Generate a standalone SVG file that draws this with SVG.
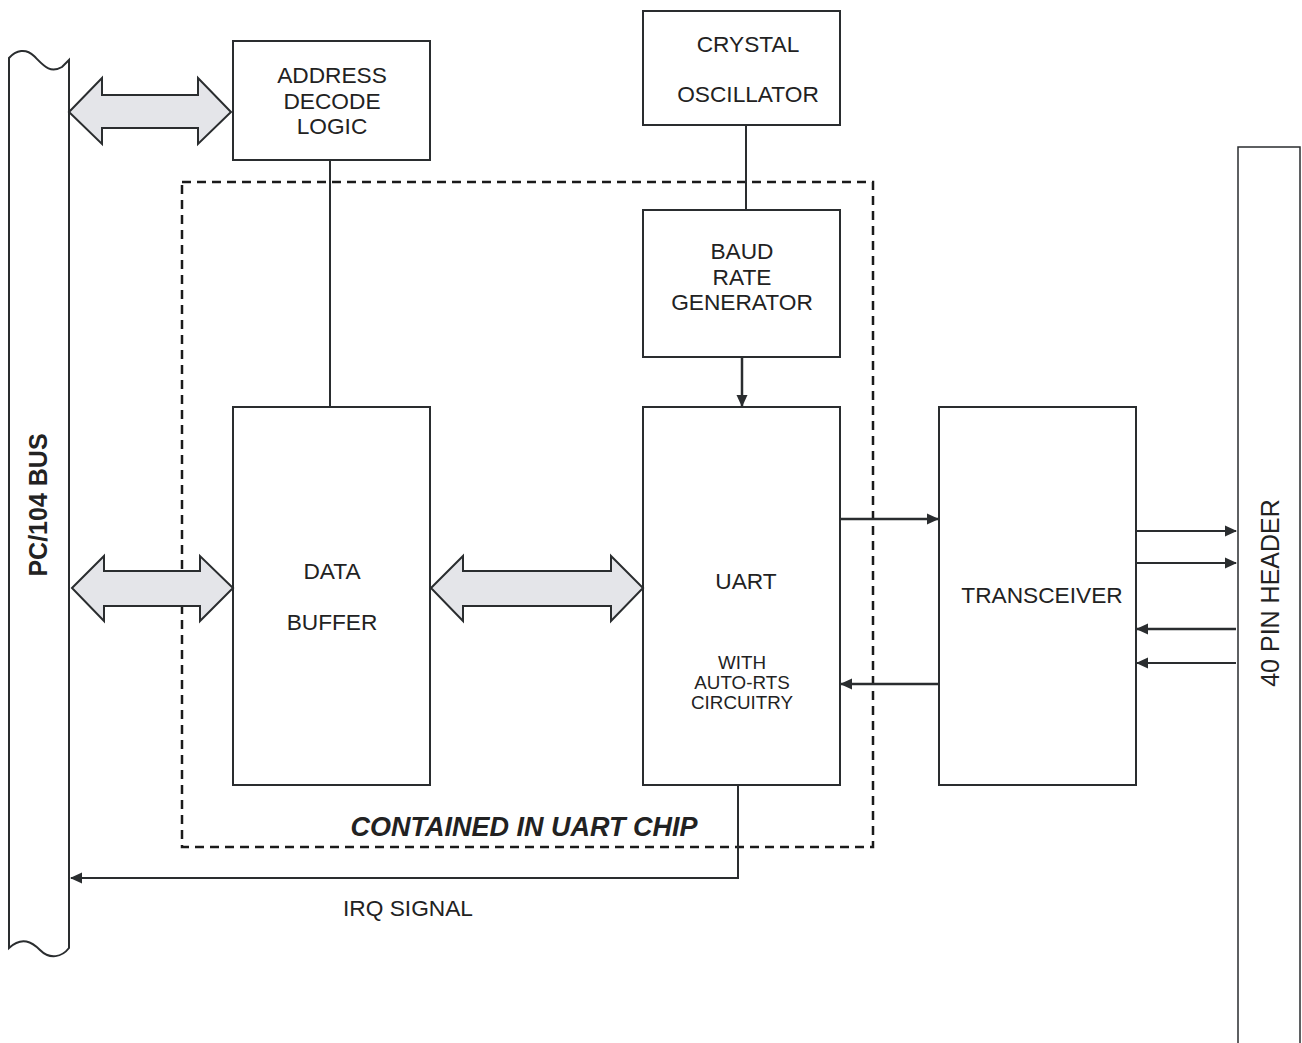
<svg xmlns="http://www.w3.org/2000/svg" width="1302" height="1043" viewBox="0 0 1302 1043">
<style>
.box{fill:#fff;stroke:#2a2d2f;stroke-width:2}
.ln{fill:none;stroke:#2a2d2f;stroke-width:2}
.dbl{fill:#e4e5e9;stroke:#2a2d2f;stroke-width:2;stroke-linejoin:miter}
.t{font-family:"Liberation Sans",Arial,sans-serif;font-size:22.7px;fill:#222;text-anchor:middle}
.s{font-size:18.8px}
</style>
<defs>
<marker id="ah" markerWidth="12" markerHeight="12" refX="11" refY="6" orient="auto" markerUnits="userSpaceOnUse">
<path d="M0,0.5 L12,6 L0,11.5 Z" fill="#2a2d2f"/>
</marker>
</defs>
<rect width="1302" height="1043" fill="#fff"/>
<g id="pc104bus">
<path class="box" d="M9,58 C16,50 26,48 34,56 C44,66 50,74 62,67 L69,60 L69,948 C62,957 50,960 40,950 C32,942 22,936 9,948 Z"/>
<text class="t" transform="translate(47,505) rotate(-90)" style="font-weight:bold;font-size:25px">PC/104 BUS</text>
</g>
<g id="address-decode">
<rect class="box" x="233" y="41" width="197" height="119"/>
<text class="t" x="332" y="83">ADDRESS</text>
<text class="t" x="332" y="109">DECODE</text>
<text class="t" x="332" y="134">LOGIC</text>
</g>
<g id="crystal">
<rect class="box" x="643" y="11" width="197" height="114"/>
<text class="t" x="748" y="52">CRYSTAL</text>
<text class="t" x="748" y="102">OSCILLATOR</text>
</g>
<g id="baud">
<rect class="box" x="643" y="210" width="197" height="147"/>
<text class="t" x="742" y="259">BAUD</text>
<text class="t" x="742" y="285">RATE</text>
<text class="t" x="742" y="310">GENERATOR</text>
</g>
<g id="data-buffer">
<rect class="box" x="233" y="407" width="197" height="378"/>
<text class="t" x="332" y="579">DATA</text>
<text class="t" x="332" y="630">BUFFER</text>
</g>
<g id="uart">
<rect class="box" x="643" y="407" width="197" height="378"/>
<text class="t" x="746" y="589">UART</text>
<text class="t s" x="742" y="669">WITH</text>
<text class="t s" x="742" y="689">AUTO-RTS</text>
<text class="t s" x="742" y="709">CIRCUITRY</text>
</g>
<g id="transceiver">
<rect class="box" x="939" y="407" width="197" height="378"/>
<text class="t" x="1042" y="603">TRANSCEIVER</text>
</g>
<g id="header">
<rect class="box" x="1238" y="147" width="62" height="900" style="stroke-width:1.5"/>
<text class="t" transform="translate(1279,593) rotate(-90)" style="font-size:25px">40 PIN HEADER</text>
</g>
<g id="uart-chip">
<rect x="182" y="182" width="691" height="665" fill="none" stroke="#1a1a1a" stroke-width="2.5" stroke-dasharray="9,6"/>
<text class="t" x="524" y="836" style="font-weight:bold;font-style:italic;font-size:27px">CONTAINED IN UART CHIP</text>
</g>
<g id="connectors">
<path class="dbl" d="M69,112 L102,78 L102,95 L198,95 L198,78 L231,112 L198,144 L198,128 L102,128 L102,144 Z"/>
<path class="dbl" d="M72,588 L104,556 L104,571 L200,571 L200,556 L233,588 L200,621 L200,606 L104,606 L104,621 Z"/>
<path class="dbl" d="M431,588 L463,556 L463,571 L611,571 L611,556 L643,588 L611,621 L611,606 L463,606 L463,621 Z"/>
<line class="ln" x1="330" y1="160" x2="330" y2="407"/>
<line class="ln" x1="746" y1="125" x2="746" y2="210"/>
<line class="ln" x1="742" y1="357" x2="742" y2="406" marker-end="url(#ah)" style="stroke-width:2.5"/>
<line class="ln" x1="840" y1="519" x2="938" y2="519" marker-end="url(#ah)" style="stroke-width:2.5"/>
<line class="ln" x1="939" y1="684" x2="841" y2="684" marker-end="url(#ah)" style="stroke-width:2.5"/>
<line class="ln" x1="1136" y1="531" x2="1236" y2="531" marker-end="url(#ah)"/>
<line class="ln" x1="1136" y1="563" x2="1236" y2="563" marker-end="url(#ah)"/>
<line class="ln" x1="1236" y1="629" x2="1137" y2="629" marker-end="url(#ah)" style="stroke-width:2.5"/>
<line class="ln" x1="1236" y1="663" x2="1137" y2="663" marker-end="url(#ah)"/>
<path class="ln" d="M738,785 L738,878 L71,878" marker-end="url(#ah)"/>
<text class="t" x="408" y="916">IRQ SIGNAL</text>
</g>
</svg>
